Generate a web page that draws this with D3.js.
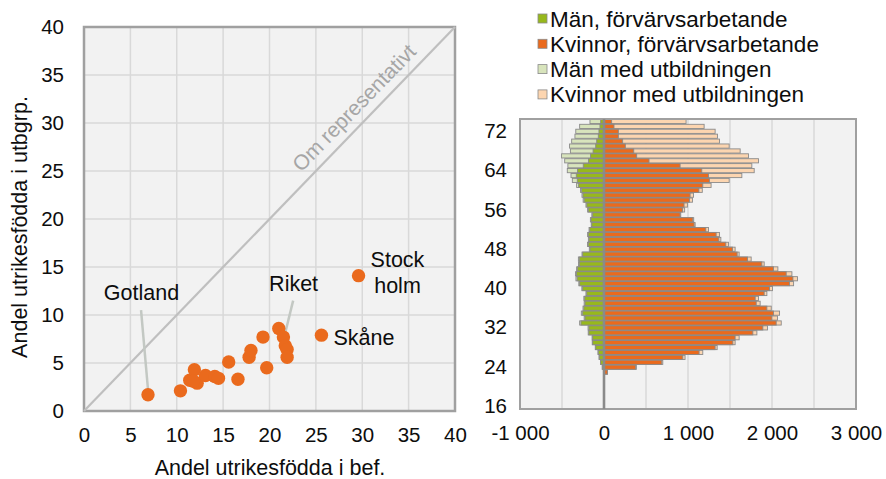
<!DOCTYPE html>
<html>
<head>
<meta charset="utf-8">
<script src="https://cdn.jsdelivr.net/npm/d3@7"></script>
<style>
  html, body { margin: 0; padding: 0; background: #ffffff; }
  svg { display: block; font-family: "Liberation Sans", Arial, sans-serif; }
</style>
</head>
<body>
<svg id="chart" width="886" height="479"></svg>
<script>
// ---------- Scatter data (share foreign-born) ----------
const scatterX = [6.9, 10.4, 11.4, 11.9, 12.2, 11.8, 13.1, 14.1, 14.5, 15.6, 16.6, 17.8, 18.0, 19.3, 19.7, 21.0, 21.5, 21.7, 21.9, 21.9, 25.6, 29.6];
const scatterY = [1.7, 2.1, 3.2, 4.3, 2.9, 3.1, 3.7, 3.6, 3.4, 5.1, 3.3, 5.6, 6.3, 7.7, 4.5, 8.6, 7.7, 6.8, 6.4, 5.6, 7.9, 14.1];
const scatterTicks = [0, 5, 10, 15, 20, 25, 30, 35, 40];
const scatterXTitle = "Andel utrikesfödda  i bef.";
const scatterYTitle = "Andel utrikesfödda i utbgrp.";
const diagLabel = "Om representativt";
// labels: text lines, anchor point (data), leader line (data)
const labelNames = ["Gotland", "Riket", "Stock|holm", "Skåne"];
const labelPosX = [6.2, 22.6, 33.8, 26.9];
const labelPosY = [12.3, 13.2, 15.7, 7.6];
const leaderFrom = [[6.15, 10.5], [22.55, 11.5], null, null];
const leaderTo = [[6.93, 1.9], [21.56, 7.6], null, null];

// ---------- Pyramid data ----------
const ages = d3.range(16, 75);
// values for ages 16..74
const womenUtb = [0,0,0,0,0,0,0,42,385,700,965,1176,1347,1561,1609,1820,1947,2110,2066,2090,1991,1859,1839,1939,2006,2257,2304,2237,2070,1907,1752,1609,1561,1482,1391,1375,1244,1085,1068,914,960,993,1053,1065,1170,1275,1490,1641,1788,1760,1839,1720,1621,1490,1375,1351,1323,1192,977];
const womenWork = [0,0,0,0,0,0,0,40,378,688,938,1132,1323,1534,1561,1772,1891,2050,1999,2018,1939,1812,1800,1907,1971,2209,2249,2169,2018,1879,1708,1585,1530,1450,1367,1335,1212,1073,1057,906,935,953,1017,1025,1130,1176,1255,1244,1164,906,536,389,354,254,222,171,171,119,91];
const menUtb = [0,0,0,0,0,0,0,6,21,42,59,72,104,140,142,188,190,290,236,270,250,236,240,215,264,300,334,340,326,304,305,262,175,196,186,195,178,152,162,145,195,215,248,262,280,326,377,393,437,430,468,505,400,410,385,346,336,290,167];
const menWork = [0,0,0,0,0,0,0,5,20,40,56,68,99,135,135,180,180,274,226,254,240,226,230,206,254,290,320,327,314,294,294,254,167,187,178,187,170,145,155,135,187,205,236,250,266,302,318,330,316,247,185,160,130,99,87,68,60,48,40];
const pyrXTicks = [-1000, 0, 1000, 2000, 3000];
const pyrYTicks = [16, 24, 32, 40, 48, 56, 64, 72];
const legendLabels = ["Män, förvärvsarbetande", "Kvinnor, förvärvsarbetande", "Män med utbildningen", "Kvinnor med utbildningen"];

// ---------- Styles ----------
const C = {
  plotBg: "#f2f2f2", grid: "#d9d9d9", border: "#a0a0a0",
  orange: "#ea6a1d", green: "#97b81c", lightGreen: "#d8e4bc", cream: "#fcd5b0",
  barStroke: "#8a8a8a", diag: "#bfbfbf", diagText: "#a6a6a6", leader: "#c3c8c3", text: "#0d0d0d"
};
const FONT = "Liberation Sans, Arial, sans-serif";

const svg = d3.select("#chart");

// ================= SCATTER =================
const sx = d3.scaleLinear().domain([0, 40]).range([84, 455]);
const sy = d3.scaleLinear().domain([0, 40]).range([411, 27]);
const sc = svg.append("g");

sc.append("rect").attr("x", sx(0)).attr("y", sy(40))
  .attr("width", sx(40) - sx(0)).attr("height", sy(0) - sy(40)).attr("fill", C.plotBg);

sc.append("g").selectAll("line").data(scatterTicks.slice(1, -1)).join("line")
  .attr("x1", d => sx(d)).attr("x2", d => sx(d)).attr("y1", sy(0)).attr("y2", sy(40))
  .attr("stroke", C.grid).attr("stroke-width", 1.5);
sc.append("g").selectAll("line").data(scatterTicks.slice(1, -1)).join("line")
  .attr("y1", d => sy(d)).attr("y2", d => sy(d)).attr("x1", sx(0)).attr("x2", sx(40))
  .attr("stroke", C.grid).attr("stroke-width", 1.5);

sc.append("rect").attr("x", sx(0)).attr("y", sy(40))
  .attr("width", sx(40) - sx(0)).attr("height", sy(0) - sy(40))
  .attr("fill", "none").attr("stroke", C.border).attr("stroke-width", 2.5);

// diagonal
sc.append("line").attr("x1", sx(0)).attr("y1", sy(0)).attr("x2", sx(40)).attr("y2", sy(40))
  .attr("stroke", C.diag).attr("stroke-width", 2.2);
const ang = -Math.atan((sy(0) - sy(40)) / (sx(40) - sx(0))) * 180 / Math.PI;
sc.append("text").attr("transform", `translate(${sx(29.1)},${sy(31.6)}) rotate(${ang})`)
  .attr("text-anchor", "middle").attr("dominant-baseline", "central")
  .attr("font-size", 21).attr("fill", C.diagText).text(diagLabel);

// axes
const xAxisS = d3.axisBottom(sx).tickValues(scatterTicks).tickSize(0).tickPadding(16);
sc.append("g").attr("transform", `translate(0,${sy(0)})`).call(xAxisS)
  .call(g => g.select(".domain").remove())
  .selectAll("text").attr("font-size", 20.5).attr("fill", C.text).attr("font-family", FONT);
const yAxisS = d3.axisLeft(sy).tickValues(scatterTicks).tickSize(0).tickPadding(20);
sc.append("g").attr("transform", `translate(${sx(0)},0)`).call(yAxisS)
  .call(g => g.select(".domain").remove())
  .selectAll("text").attr("font-size", 20.5).attr("fill", C.text).attr("font-family", FONT);

sc.append("text").attr("x", 270).attr("y", 475).attr("text-anchor", "middle")
  .attr("font-size", 21.5).attr("fill", C.text).text(scatterXTitle);
sc.append("text").attr("transform", `translate(27,227) rotate(-90)`).attr("text-anchor", "middle")
  .attr("font-size", 21.5).attr("fill", C.text).text(scatterYTitle);

// leaders
labelNames.forEach((n, i) => {
  if (leaderFrom[i]) {
    sc.append("line")
      .attr("x1", sx(leaderFrom[i][0])).attr("y1", sy(leaderFrom[i][1]))
      .attr("x2", sx(leaderTo[i][0])).attr("y2", sy(leaderTo[i][1]))
      .attr("stroke", C.leader).attr("stroke-width", 2.5);
  }
});

// points
sc.append("g").selectAll("circle").data(scatterX.map((x, i) => [x, scatterY[i]])).join("circle")
  .attr("cx", d => sx(d[0])).attr("cy", d => sy(d[1])).attr("r", 6.7).attr("fill", C.orange);

// labels
labelNames.forEach((n, i) => {
  const lines = n.split("|");
  const anchor = i === 3 ? "start" : "middle";
  lines.forEach((ln, j) => {
    sc.append("text").attr("x", sx(labelPosX[i])).attr("y", sy(labelPosY[i]) + j * 26)
      .attr("text-anchor", anchor).attr("dominant-baseline", "central")
      .attr("font-size", 21.5).attr("fill", C.text).text(ln);
  });
});

// ================= PYRAMID =================
const px = d3.scaleLinear().domain([-1000, 3000]).range([520, 856]);
const py = d3.scaleBand().domain(ages.slice().reverse()).range([119, 409]).paddingInner(0.15).paddingOuter(0.08);
const pg = svg.append("g");

pg.append("rect").attr("x", px(-1000)).attr("y", 119).attr("width", px(3000) - px(-1000)).attr("height", 290)
  .attr("fill", C.plotBg);
pg.append("g").selectAll("line").data(d3.range(-500, 3000, 500).filter(d => d !== 0)).join("line")
  .attr("x1", d => px(d)).attr("x2", d => px(d)).attr("y1", 119).attr("y2", 409)
  .attr("stroke", C.grid).attr("stroke-width", 1.5);

function bars(vals, color, sign) {
  pg.append("g").selectAll("rect").data(ages.map((a, i) => ({ a, v: vals[i] })).filter(d => d.v > 0)).join("rect")
    .attr("x", d => sign < 0 ? px(-d.v) : px(0))
    .attr("width", d => Math.abs(px(d.v) - px(0)))
    .attr("y", d => py(d.a)).attr("height", py.bandwidth())
    .attr("fill", color).attr("stroke", C.barStroke).attr("stroke-width", 0.9);
}
bars(menUtb, C.lightGreen, -1);
bars(womenUtb, C.cream, 1);
bars(menWork, C.green, -1);
bars(womenWork, C.orange, 1);

pg.append("rect").attr("x", px(-1000)).attr("y", 119).attr("width", px(3000) - px(-1000)).attr("height", 290)
  .attr("fill", "none").attr("stroke", C.border).attr("stroke-width", 2);
pg.append("line").attr("x1", px(0)).attr("x2", px(0)).attr("y1", 119).attr("y2", 409)
  .attr("stroke", "#8a8a8a").attr("stroke-width", 2.6);

const xAxisP = d3.axisBottom(px).tickValues(pyrXTicks).tickSize(0).tickPadding(16)
  .tickFormat(d => (d < 0 ? "-" : "") + d3.format(",")(Math.abs(d)).replace(/,/g, " "));
pg.append("g").attr("transform", `translate(0,409)`).call(xAxisP)
  .call(g => g.select(".domain").remove())
  .selectAll("text").attr("font-size", 20.5).attr("fill", C.text).attr("font-family", FONT);
const yAxisP = d3.axisLeft(py).tickValues(pyrYTicks).tickSize(0).tickPadding(13);
pg.append("g").attr("transform", `translate(520,0)`).call(yAxisP)
  .call(g => g.select(".domain").remove())
  .selectAll("text").attr("font-size", 20.5).attr("fill", C.text).attr("font-family", FONT);

// legend
const legColors = [C.green, C.orange, C.lightGreen, C.cream];
const lg = pg.append("g");
legendLabels.forEach((t, i) => {
  const y = 19 + i * 25.3;
  lg.append("rect").attr("x", 538).attr("y", y - 5).attr("width", 9).attr("height", 9)
    .attr("fill", legColors[i]).attr("stroke", C.barStroke).attr("stroke-width", 0.8);
  lg.append("text").attr("x", 550).attr("y", y).attr("dominant-baseline", "central")
    .attr("font-size", 22.5).attr("fill", C.text).text(t);
});
</script>
</body>
</html>
